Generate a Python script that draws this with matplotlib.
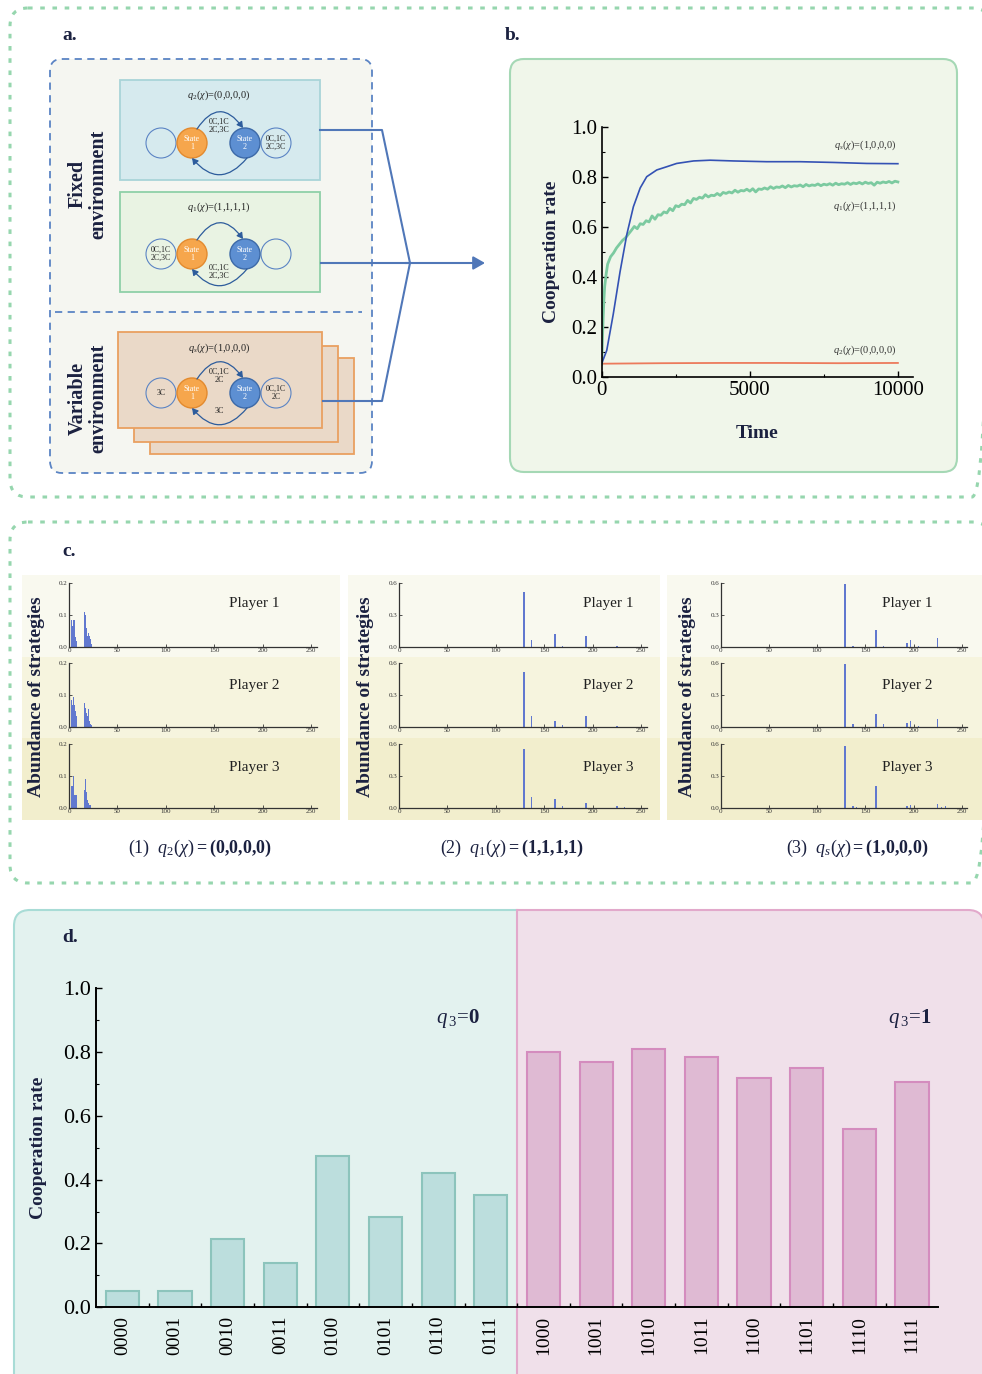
import matplotlib.pyplot as plt
import numpy as np
from matplotlib.patches import FancyBboxPatch, Rectangle, Circle, FancyArrowPatch

plt.rcParams['font.family'] = 'Liberation Serif'
plt.rcParams['mathtext.fontset'] = 'custom'
plt.rcParams['mathtext.rm'] = 'Liberation Serif'
plt.rcParams['mathtext.it'] = 'Liberation Serif:italic'
plt.rcParams['mathtext.bf'] = 'Liberation Serif:bold'

W, H = 982, 1374
NAVY = '#1b2140'

# ---------- b. cooperation rate over time ----------
blue_t = [0, 170, 390, 620, 850, 1070, 1300, 1520, 1860, 2200, 2530, 3100, 3660,
          4450, 5570, 6700, 7830, 8950, 10000]
blue_y = [0.053, 0.105, 0.25, 0.42, 0.57, 0.68, 0.755, 0.80, 0.827, 0.84, 0.853,
          0.863, 0.866, 0.863, 0.86, 0.86, 0.857, 0.853, 0.852]

green_t = [0, 25, 50, 75, 100, 150, 200, 250, 300, 400, 500, 600, 700, 800, 900, 1000] \
    + list(range(1100, 10001, 100))
green_y = [0.05, 0.15, 0.24, 0.31, 0.36, 0.41, 0.45, 0.465, 0.48, 0.495, 0.515, 0.53,
           0.545, 0.555, 0.57, 0.585,
           0.601, 0.592, 0.612, 0.609, 0.624, 0.619, 0.643, 0.630, 0.648, 0.646,
           0.659, 0.655, 0.673, 0.664, 0.684, 0.680, 0.690, 0.688, 0.705, 0.695,
           0.713, 0.709, 0.718, 0.714, 0.728, 0.719, 0.726, 0.724, 0.733, 0.725,
           0.737, 0.733, 0.739, 0.735, 0.746, 0.738, 0.745, 0.743, 0.750, 0.742,
           0.752, 0.739, 0.751, 0.749, 0.755, 0.750, 0.760, 0.753, 0.759, 0.757,
           0.763, 0.756, 0.765, 0.759, 0.764, 0.762, 0.767, 0.760, 0.769, 0.763,
           0.767, 0.765, 0.771, 0.764, 0.770, 0.767, 0.772, 0.766, 0.774, 0.768,
           0.772, 0.770, 0.776, 0.769, 0.775, 0.772, 0.777, 0.771, 0.778, 0.773,
           0.776, 0.766, 0.778, 0.774, 0.779, 0.776, 0.781, 0.775, 0.782, 0.779]

red_t = [0, 2000, 4000, 6000, 8000, 10000]
red_y = [0.052, 0.054, 0.055, 0.055, 0.054, 0.055]

# ---------- c. abundance of strategies (strategy index, value per player) ----------
c1_idx = [0, 1, 2, 3, 4, 5, 6, 7, 8, 16, 17, 18, 19, 20, 21, 22, 23]
c1_vals = [[0, 0.115, 0.155, 0.085, 0.065, 0.085, 0.085, 0.03, 0.02,
            0.11, 0.10, 0.06, 0.035, 0.045, 0.035, 0.025, 0.01],
           [0, 0.14, 0.165, 0.085, 0.07, 0.095, 0.07, 0.05, 0.035,
            0.075, 0.06, 0.045, 0.035, 0.055, 0.02, 0.01, 0.005],
           [0.195, 0.175, 0.16, 0.07, 0.07, 0.10, 0.04, 0.04, 0.04,
            0.055, 0.09, 0.05, 0.025, 0.015, 0.01, 0.01, 0]]

c2_idx = [129, 137, 161, 169, 193, 225, 233]
c2_vals = [[0.513, 0.065, 0.124, 0.01, 0.105, 0.005, 0],
           [0.516, 0.107, 0.06, 0.02, 0.105, 0.005, 0],
           [0.55, 0.10, 0.088, 0.02, 0.05, 0.015, 0.01]]

c3_idx = [129, 137, 141, 161, 169, 193, 197, 205, 225, 229, 233]
c3_vals = [[0.594, 0.005, 0, 0.16, 0.005, 0.04, 0.066, 0.005, 0.087, 0, 0],
           [0.594, 0.025, 0, 0.123, 0.03, 0.035, 0.055, 0.01, 0.079, 0, 0],
           [0.581, 0.015, 0.01, 0.21, 0, 0.015, 0.025, 0, 0.035, 0.01, 0.015]]

# ---------- d. cooperation rate per strategy ----------
d_labels = ['0000', '0001', '0010', '0011', '0100', '0101', '0110', '0111',
            '1000', '1001', '1010', '1011', '1100', '1101', '1110', '1111']
d_vals = [0.052, 0.052, 0.213, 0.138, 0.475, 0.282, 0.42, 0.351,
          0.801, 0.768, 0.808, 0.783, 0.718, 0.751, 0.558, 0.705]

fig = plt.figure(figsize=(W / 100, H / 100), dpi=100)
bg = fig.add_axes([0, 0, 1, 1])
bg.set_xlim(0, W)
bg.set_ylim(H, 0)
bg.axis('off')


def px_axes(l, t, r, b):
    ax = fig.add_axes([l / W, 1 - b / H, (r - l) / W, (b - t) / H])
    ax.set_facecolor('none')
    return ax


def rbox(x0, y0, x1, y1, fc, ec, lw=1.2, ls='-', rs=12, **kw):
    p = FancyBboxPatch((x0, y0), x1 - x0, y1 - y0,
                       boxstyle=f'round,pad=0,rounding_size={rs}',
                       facecolor=fc, edgecolor=ec, lw=lw, linestyle=ls, **kw)
    bg.add_patch(p)
    return p


# outer dashed frames
rbox(10, 8, 990, 497, 'none', '#96d6ae', lw=2.2, ls=(0, (1.5, 2.5)), rs=18)
rbox(10, 522, 990, 883, 'none', '#96d6ae', lw=2.2, ls=(0, (1.5, 2.5)), rs=18)

for x, y, s in [(62, 35, 'a.'), (505, 35, 'b.'), (62, 551, 'c.'), (62, 937, 'd.')]:
    bg.text(x, y, s, fontsize=14, fontweight='bold', color=NAVY, va='center')

# ---------- a. environment diagrams ----------
rbox(50, 59, 372, 473, '#f5f6f1', '#5b84c4', lw=1.3, ls=(0, (4, 3)), rs=12)
bg.plot([55, 362], [312, 312], color='#5b84c4', lw=1.3, ls=(0, (4, 3)))
bg.text(88, 184, 'Fixed\nenvironment', rotation=90, ha='center', va='center',
        fontsize=14.5, fontweight='bold', color=NAVY, linespacing=1.0)
bg.text(88, 398, 'Variable\nenvironment', rotation=90, ha='center', va='center',
        fontsize=14.5, fontweight='bold', color=NAVY, linespacing=1.0)

bg.add_patch(Rectangle((120, 80), 200, 100, facecolor='#d6eaee', edgecolor='#a9d4d8', lw=1.3))
bg.add_patch(Rectangle((120, 192), 200, 100, facecolor='#e9f3e3', edgecolor='#8fd0a8', lw=1.3))
for dx, dy in [(32, 26), (16, 14), (0, 0)]:
    bg.add_patch(Rectangle((118 + dx, 332 + dy), 204, 96, facecolor='#ead9c8',
                           edgecolor='#e9a060', lw=1.3))

ARC = '#2d5c9c'


def state_diagram(cy, title, left_txt, right_txt, top_txt, bot_txt, title_y):
    bg.text(219, title_y, title, ha='center', va='center', fontsize=7.5, color='#222')
    for cx, txt in [(161, left_txt), (276, right_txt)]:
        bg.add_patch(Circle((cx, cy), 15, facecolor='none', edgecolor='#5b84c4', lw=0.8))
        if txt:
            bg.text(cx, cy, txt, ha='center', va='center', fontsize=5.6,
                    linespacing=1.1, color='#222')
    bg.add_patch(Circle((192, cy), 15, facecolor='#f6a64c', edgecolor='#e38a2e', lw=1))
    bg.add_patch(Circle((245, cy), 15, facecolor='#5d8fd2', edgecolor='#3d6aa8', lw=1))
    for cx, n in [(192, '1'), (245, '2')]:
        bg.text(cx, cy, 'State\n' + n, ha='center', va='center', fontsize=5.8,
                color='white', linespacing=1.1)
    bg.add_patch(FancyArrowPatch((197, cy - 14), (243, cy - 15),
                                 connectionstyle='arc3,rad=-0.72',
                                 arrowstyle='-|>,head_length=3.5,head_width=2',
                                 color=ARC, lw=0.9, shrinkA=0, shrinkB=0))
    bg.add_patch(FancyArrowPatch((247, cy + 15), (192, cy + 15),
                                 connectionstyle='arc3,rad=-0.6',
                                 arrowstyle='-|>,head_length=3.5,head_width=2',
                                 color=ARC, lw=0.9, shrinkA=0, shrinkB=0))
    if top_txt:
        bg.text(219, cy - 17, top_txt, ha='center', va='center', fontsize=5.8,
                linespacing=1.1, color='#222')
    if bot_txt:
        bg.text(219, cy + 18, bot_txt, ha='center', va='center', fontsize=5.8,
                linespacing=1.1, color='#222')


state_diagram(143, r'$q_{\mathit{2}}(\chi)$=(0,0,0,0)', '', '0C,1C\n2C,3C',
              '0C,1C\n2C,3C', '', 95)
state_diagram(254, r'$q_{\mathit{1}}(\chi)$=(1,1,1,1)', '0C,1C\n2C,3C', '',
              '', '0C,1C\n2C,3C', 207)
state_diagram(393, r'$q_{\mathit{s}}(\chi)$=(1,0,0,0)', '3C', '0C,1C\n2C',
              '0C,1C\n2C', '3C', 348)

# connectors to panel b
LINK = '#5077b8'
bg.plot([320, 382, 410], [130, 130, 263], color=LINK, lw=1.5)
bg.plot([323, 382, 410], [401, 401, 263], color=LINK, lw=1.5)
bg.plot([321, 410], [263, 263], color=LINK, lw=1.5)
bg.add_patch(FancyArrowPatch((405, 263), (485, 263), arrowstyle='-|>,head_length=7,head_width=4',
                             color=LINK, lw=1.5, shrinkA=0, shrinkB=0))

# ---------- b. time series ----------
rbox(510, 59, 957, 472, '#f0f6ea', '#a5d8b5', lw=1.5, rs=14)
axb = px_axes(601.7, 126.7, 912.7, 376.7)
axb.plot(red_t, red_y, color='#ec7a5c', lw=1.3)
axb.plot(green_t, green_y, color='#7ccaa0', lw=2.0)
axb.plot(blue_t, blue_y, color='#3452b4', lw=1.2)
axb.set_xlim(0, 10500)
axb.set_ylim(0, 1)
axb.set_xticks([0, 5000, 10000])
axb.set_xticks([2500, 7500], minor=True)
axb.set_yticks(np.arange(0, 1.01, 0.2))
axb.set_yticks(np.arange(0.1, 1.0, 0.2), minor=True)
axb.set_yticklabels(['0.0', '0.2', '0.4', '0.6', '0.8', '1.0'])
for s in ['top', 'right']:
    axb.spines[s].set_visible(False)
for s in ['left', 'bottom']:
    axb.spines[s].set_linewidth(1.2)
axb.tick_params(direction='in', length=4, width=1, labelsize=15, pad=3)
axb.tick_params(which='minor', direction='in', length=2.5, width=0.8)
axb.set_ylabel('Cooperation rate', fontsize=14, fontweight='bold', color=NAVY, labelpad=8)
axb.set_xlabel('Time', fontsize=14, fontweight='bold', color=NAVY, labelpad=18)
for y, s in [(145, r'$q_{\mathit{s}}(\chi)$=(1,0,0,0)'), (206, r'$q_{\mathit{1}}(\chi)$=(1,1,1,1)'),
             (350, r'$q_{\mathit{2}}(\chi)$=(0,0,0,0)')]:
    bg.text(896, y, s, ha='right', va='center', fontsize=7.5, color='#333')

# ---------- c. strategy abundance ----------
band_y = [(575, 657), (657, 738), (738, 820)]
band_c = ['#f9f9ef', '#f6f4de', '#f2eecd']
sub_x = [(22, 340), (348, 660), (667, 982)]
for (x0, x1) in sub_x:
    for (y0, y1), c in zip(band_y, band_c):
        bg.add_patch(Rectangle((x0, y0), x1 - x0, y1 - y0, facecolor=c, edgecolor='none'))

ax_x = [(69, 311), (399, 641), (720.7, 961.7)]
ax_y = [(583, 647), (663, 727), (744, 808)]
panels = [(c1_idx, c1_vals, 0.2, [0, 0.1, 0.2], 0.9),
          (c2_idx, c2_vals, 0.6, [0, 0.3, 0.6], 1.6),
          (c3_idx, c3_vals, 0.6, [0, 0.3, 0.6], 1.6)]
label_x = [37, 366, 688]
player_x = [254, 608, 907]
player_y = [603, 686, 767]
for k, (idx, vals, ymax, yt, bw) in enumerate(panels):
    x0, x1 = ax_x[k]
    for j in range(3):
        t, b = ax_y[j]
        ax = px_axes(x0, t, x0 + (x1 - x0) * 256 / 250, b)
        ax.bar(idx, vals[j], width=bw, color='#6178cf', edgecolor='none', linewidth=0)
        ax.set_xlim(0, 256)
        ax.set_ylim(0, ymax)
        ax.set_xticks([0, 50, 100, 150, 200, 250])
        ax.set_yticks(yt)
        ax.set_yticklabels([f'{v:.1f}' for v in yt])
        for s in ['top', 'right']:
            ax.spines[s].set_visible(False)
        for s in ['left', 'bottom']:
            ax.spines[s].set_linewidth(0.9)
            ax.spines[s].set_color('#333')
        ax.tick_params(direction='in', length=2, width=0.6, labelsize=5, pad=1,
                       colors='#333')
        bg.text(player_x[k], player_y[j], f'Player {j + 1}', ha='center', va='center',
                fontsize=11, color='#222')
    bg.text(label_x[k], 697, 'Abundance of strategies', rotation=90, ha='center',
            va='center', fontsize=14, fontweight='bold', color=NAVY)

captions = [r'(1)  $q_{\mathit{2}}(\chi)\mathbf{{=}(0{,}0{,}0{,}0)}$',
            r'(2)  $q_{\mathit{1}}(\chi)\mathbf{{=}(1{,}1{,}1{,}1)}$',
            r'(3)  $q_{\mathit{s}}(\chi)\mathbf{{=}(1{,}0{,}0{,}0)}$']
for x, s in zip([200, 512, 857], captions):
    bg.text(x, 848, s, ha='center', va='center', fontsize=13, color=NAVY)

# ---------- d. cooperation rate by strategy ----------
clip_l = Rectangle((0, 0), 517, H, transform=bg.transData)
clip_r = Rectangle((517, 0), W, H, transform=bg.transData)
p = rbox(14, 910, 1000, 1400, '#e3f2ef', '#a8dcd6', lw=1.5, rs=16)
p.set_clip_path(clip_l)
p = rbox(14, 910, 984, 1400, '#f0e0ea', '#e2a9cb', lw=1.5, rs=16)
p.set_clip_path(clip_r)
bg.plot([517, 517], [910, H], color='#e2a9cb', lw=1.5)

axd = px_axes(96, 988, 938.3, 1307.3)
xs = np.arange(len(d_vals))
face = ['#bcdedd'] * 8 + ['#dfbad3'] * 8
edge = ['#8cc4bc'] * 8 + ['#d48cbe'] * 8
axd.bar(xs, d_vals, width=0.63, color=face, edgecolor=edge, linewidth=1.5)
axd.set_xlim(-0.5, 15.5)
axd.set_ylim(0, 1)
axd.set_yticks(np.arange(0, 1.01, 0.2))
axd.set_yticklabels(['0.0', '0.2', '0.4', '0.6', '0.8', '1.0'])
axd.set_yticks(np.arange(0.1, 1.0, 0.2), minor=True)
axd.set_xticks(xs)
axd.set_xticklabels(d_labels, rotation=90, fontsize=14)
axd.set_xticks(xs[:-1] + 0.5, minor=True)
for s in ['top', 'right']:
    axd.spines[s].set_visible(False)
for s in ['left', 'bottom']:
    axd.spines[s].set_linewidth(1.4)
axd.tick_params(axis='y', direction='in', length=4, width=1, labelsize=16)
axd.tick_params(axis='y', which='minor', direction='in', length=2.5, width=0.8)
axd.tick_params(axis='x', length=0, pad=6)
axd.tick_params(axis='x', which='minor', direction='in', length=3, width=1)
axd.set_ylabel('Cooperation rate', fontsize=14, fontweight='bold', color=NAVY, labelpad=12)
bg.text(458, 1018, r'$q_{\,\mathit{3}}\!=\!\mathbf{0}$', ha='center', va='center',
        fontsize=15, color=NAVY)
bg.text(910, 1018, r'$q_{\,\mathit{3}}\!=\!\mathbf{1}$', ha='center', va='center',
        fontsize=15, color=NAVY)

fig.savefig('out.png', dpi=100)
